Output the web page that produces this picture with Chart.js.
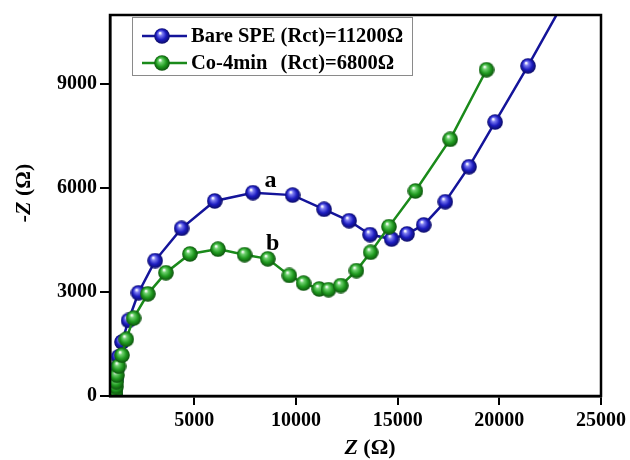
<!DOCTYPE html>
<html>
<head>
<meta charset="utf-8">
<script src="https://cdn.jsdelivr.net/npm/chart.js@4/dist/chart.umd.min.js"></script>
<style>
  body { margin: 0; background: #fff; }
  #wrap { width: 630px; height: 460px; }
</style>
</head>
<body>
<div id="wrap"><canvas id="nyquist"></canvas></div>
<script>
// Nyquist plot, Z' vs -Z'' (ohm)
const bareZre = [1100, 1120, 1160, 1200, 1270, 1440, 1760, 2250, 3070, 4370, 6000, 7880, 9830, 11380, 12610, 13640, 14700, 15460, 16280, 17340, 18510, 19790, 21410, 23000];
const bareZim = [60, 250, 500, 800, 1130, 1560, 2180, 2980, 3910, 4840, 5630, 5870, 5800, 5390, 5060, 4660, 4530, 4680, 4940, 5610, 6620, 7910, 9530, 11200];

const coZre = [1110, 1120, 1140, 1155, 1190, 1270, 1440, 1650, 2010, 2710, 3600, 4780, 6160, 7470, 8610, 9670, 10370, 11140, 11600, 12200, 12970, 13670, 14570, 15870, 17580, 19370];
const coZim = [30, 130, 270, 410, 600, 860, 1180, 1640, 2250, 2950, 3560, 4100, 4240, 4080, 3960, 3480, 3260, 3090, 3070, 3190, 3620, 4150, 4890, 5920, 7410, 9420];

const xTicks = [5000, 10000, 15000, 20000, 25000];
const yTicks = [0, 3000, 6000, 9000];

const legendLabels = ["Bare SPE (Rct)=11200\u03A9", "Co-4min", "(Rct)=6800\u03A9"];

const serif = "'Liberation Serif', 'Times New Roman', serif";

// shiny ball marker
function makeBall(light, base, dark) {
  const c = document.createElement("canvas");
  c.width = 16;
  c.height = 16;
  const g = c.getContext("2d");
  const grad = g.createRadialGradient(6, 5, 0.5, 8, 8, 8);
  grad.addColorStop(0, "#ffffff");
  grad.addColorStop(0.22, light);
  grad.addColorStop(0.6, base);
  grad.addColorStop(1, dark);
  g.fillStyle = grad;
  g.beginPath();
  g.arc(8, 8, 7.8, 0, Math.PI * 2);
  g.fill();
  return c;
}
const blueBall = makeBall("#7b7bf0", "#1c1cc0", "#0a0a60");
const greenBall = makeBall("#6fd06f", "#1f9a1f", "#0b4d0b");

function toPoints(xs, ys) {
  const pts = [];
  for (let i = 0; i < xs.length; i++) {
    pts.push({ x: xs[i], y: ys[i] });
  }
  return pts;
}

// box, legend, curve letters and axis titles
const decorations = {
  id: "decorations",
  afterDraw(chart) {
    const ctx = chart.ctx;
    const a = chart.chartArea;
    const xs = chart.scales.x;
    const ys = chart.scales.y;
    ctx.save();

    ctx.strokeStyle = "#000";
    ctx.lineWidth = 2.5;
    ctx.strokeRect(a.left, a.top, a.right - a.left, a.bottom - a.top);

    // legend box
    ctx.fillStyle = "#fff";
    ctx.fillRect(132, 17, 280, 58);
    ctx.strokeStyle = "#8a8a8a";
    ctx.lineWidth = 1;
    ctx.strokeRect(132.5, 17.5, 280, 58);

    const rows = [
      { y: 36, color: "#14149a", ball: blueBall },
      { y: 63, color: "#1a8a1a", ball: greenBall },
    ];
    rows.forEach(function (r) {
      ctx.strokeStyle = r.color;
      ctx.lineWidth = 2.5;
      ctx.beginPath();
      ctx.moveTo(142, r.y);
      ctx.lineTo(187, r.y);
      ctx.stroke();
      ctx.drawImage(r.ball, 162 - 8, r.y - 8);
    });

    ctx.fillStyle = "#000";
    ctx.font = "bold 20.5px " + serif;
    ctx.textBaseline = "middle";
    ctx.textAlign = "left";
    ctx.fillText(legendLabels[0], 191, rows[0].y + 1);
    ctx.fillText(legendLabels[1], 191, rows[1].y + 1);
    const rctX = 191 + ctx.measureText("Bare SPE ").width;
    ctx.fillText(legendLabels[2], rctX, rows[1].y + 1);

    // curve letters
    ctx.font = "bold 24px " + serif;
    ctx.textAlign = "center";
    ctx.fillText("a", xs.getPixelForValue(8750), ys.getPixelForValue(6220));
    ctx.fillText("b", xs.getPixelForValue(8850), ys.getPixelForValue(4400));

    // x title
    ctx.textBaseline = "alphabetic";
    ctx.textAlign = "left";
    ctx.font = "italic bold 22px " + serif;
    const zw = ctx.measureText("Z").width;
    ctx.font = "bold 22px " + serif;
    const rest = " (\u03A9)";
    const rw = ctx.measureText(rest).width;
    let sx = 370 - (zw + rw) / 2;
    ctx.font = "italic bold 22px " + serif;
    ctx.fillText("Z", sx, 454);
    ctx.font = "bold 22px " + serif;
    ctx.fillText(rest, sx + zw, 454);

    // y title
    ctx.translate(30, 193);
    ctx.rotate(-Math.PI / 2);
    ctx.font = "italic bold 22px " + serif;
    const yw1 = ctx.measureText("-Z").width;
    sx = -(yw1 + rw) / 2;
    ctx.fillText("-Z", sx, 0);
    ctx.font = "bold 22px " + serif;
    ctx.fillText(rest, sx + yw1, 0);

    ctx.restore();
  },
};

new Chart(document.getElementById("nyquist"), {
  type: "line",
  data: {
    datasets: [
      {
        label: "Co-4min",
        data: toPoints(coZre, coZim),
        borderColor: "#1a8a1a",
        borderWidth: 2.5,
        pointStyle: greenBall,
        pointRadius: 8,
        tension: 0,
      },
      {
        label: "Bare SPE",
        data: toPoints(bareZre, bareZim),
        borderColor: "#14149a",
        borderWidth: 2.5,
        pointStyle: blueBall,
        pointRadius: 8,
        tension: 0,
      },
    ],
  },
  options: {
    responsive: true,
    maintainAspectRatio: false,
    animation: false,
    events: [],
    layout: { padding: { top: 14, right: 27, left: 0, bottom: 0 } },
    plugins: {
      legend: { display: false },
      tooltip: { enabled: false },
    },
    scales: {
      x: {
        type: "linear",
        min: 850,
        max: 25000,
        afterBuildTicks(scale) {
          scale.ticks = xTicks.map(function (v) { return { value: v }; });
        },
        afterFit(scale) {
          scale.height = 64;
        },
        grid: { drawOnChartArea: false, color: "#000", lineWidth: 2, tickLength: 9 },
        border: { color: "#000", width: 2.5 },
        ticks: {
          color: "#000",
          font: { family: serif, size: 20, weight: "bold" },
          padding: 4,
          maxRotation: 0,
          callback: function (v) { return String(v); },
        },
      },
      y: {
        type: "linear",
        min: 0,
        max: 11000,
        afterBuildTicks(scale) {
          scale.ticks = yTicks.map(function (v) { return { value: v }; });
        },
        afterFit(scale) {
          scale.width = 110;
        },
        grid: { drawOnChartArea: false, color: "#000", lineWidth: 2, tickLength: 10 },
        border: { color: "#000", width: 2.5 },
        ticks: {
          color: "#000",
          font: { family: serif, size: 20, weight: "bold" },
          padding: 3,
          callback: function (v) { return String(v); },
        },
      },
    },
  },
  plugins: [decorations],
});
</script>
</body>
</html>
